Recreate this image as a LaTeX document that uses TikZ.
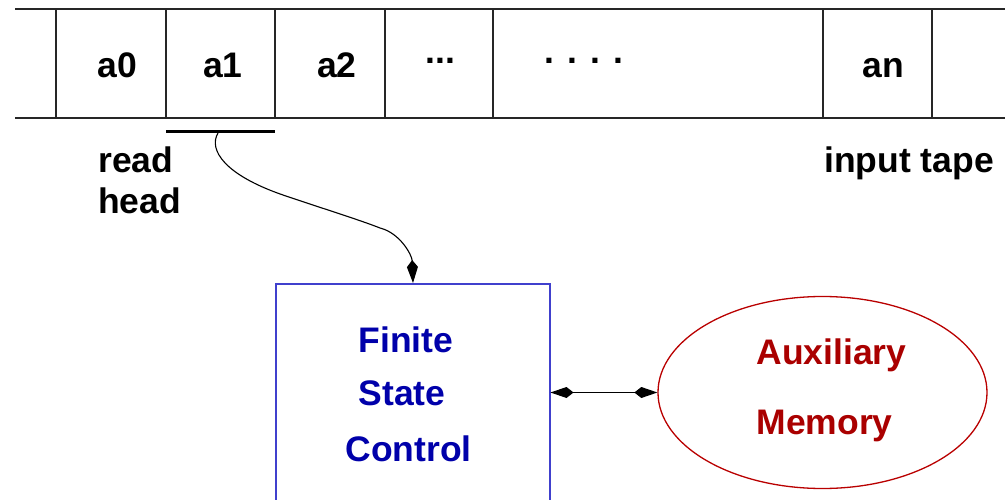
\documentclass[tikz,border=0pt]{standalone}
\usepackage{fontspec}
\setmainfont{Liberation Sans}
\usetikzlibrary{arrows.meta,shapes.geometric}
\definecolor{boxblue}{RGB}{64,64,205}
\definecolor{txtblue}{RGB}{0,0,170}
\definecolor{ellred}{RGB}{185,0,0}
\definecolor{txtred}{RGB}{170,0,0}
\tikzset{
  lbl/.style={inner sep=0pt,anchor=base,font=\fontsize{35.5}{40}\selectfont\bfseries},
  lbll/.style={lbl,anchor=base west},
  tape/.style={line width=1.3pt,black!85},
}
\begin{document}
\begin{tikzpicture}[x=1pt,y=-1pt]
\useasboundingbox (0,0) rectangle (1005,500);
\clip (0,0) rectangle (1005,500);
% tape
\draw[tape] (15,9) -- (1005,9);
\draw[tape] (15,118) -- (1005,118);
\foreach \xx in {56,166,275,385,493,823,932}
  \draw[tape] (\xx,9) -- (\xx,118);
\node[lbl] (a0) at (117.5,78) {a0};
\node[lbl] (a1) at (223,78) {a1};
\node[lbl] (a2) at (337,78) {a2};
\node[lbl] (d3) at (440.5,64) {...};
\node[lbl] (d4) at (584,64) {. . . .};
\node[lbl] (an) at (883.5,78) {an};
% read head
\draw[line width=3pt] (166,132) -- (275,132);
\coordinate (rh) at (218,133);
\node[lbll] (read) at (98,173) {read};
\node[lbll] (head) at (98,214) {head};
\node[lbll] (inp) at (824,173) {input tape};
% finite state control
\node[draw=boxblue,line width=1.5pt,minimum width=274pt,minimum height=260pt,anchor=north west,inner sep=0pt] (box) at (275,283) {};
\node[lbl,text=txtblue] (t1) at (406,352) {Finite};
\node[lbl,text=txtblue] (t2) at (402,405) {State};
\node[lbl,text=txtblue] (t3) at (408.5,461) {Control};
% memory
\node[ellipse,draw=ellred,line width=1.3pt,minimum width=329pt,minimum height=192pt,inner sep=0pt] (mem) at (822.5,392.5) {};
\node[lbl,text=txtred] (m1) at (831.5,364) {Auxiliary};
\node[lbl,text=txtred] (m2) at (824.5,434) {Memory};
% connectors
\draw[line width=1.1pt,-{Kite[length=23pt,width=11pt,inset=7pt]}]
  (rh) .. controls (208,150) and (225,175) .. (283,195)
       .. controls (315,206) and (360,220) .. (380,228)
       .. controls (400,233) and (412,255) .. (413,283);
\draw[line width=1.1pt,{Kite[length=23pt,width=11pt,inset=7pt]}-{Kite[length=23pt,width=11pt,inset=7pt]}]
  (box.east |- mem.west) -- (mem.west);
\end{tikzpicture}
\end{document}
